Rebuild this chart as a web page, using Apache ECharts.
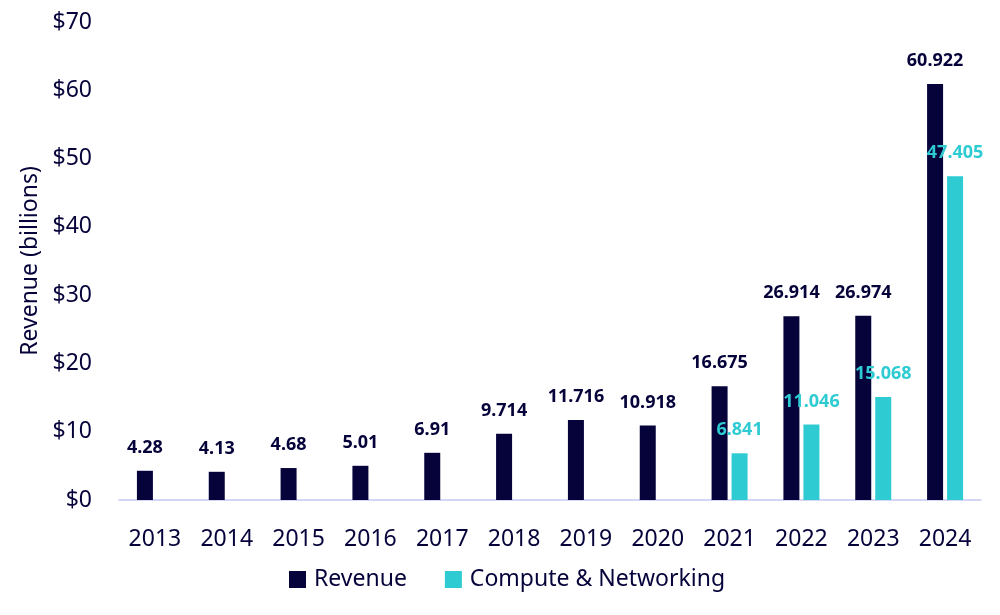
<!DOCTYPE html>
<html lang="en">
<head>
	<meta charset="UTF-8">
	<title>Revenue</title>
	<script type="text/javascript" src="https://cdn.jsdelivr.net/npm/echarts@6/dist/echarts.min.js"></script>
	<style type="text/css">
	html,body{margin:0;padding:0;background:#fff;}
	#container{width:1000px;height:615px;}
	</style>
</head>
<body>
	<div id="container"></div>
	<script type="text/javascript">
		var years = ['2013','2014','2015','2016','2017','2018','2019','2020','2021','2022','2023','2024'];
		var revenue = [4.28, 4.13, 4.68, 5.01, 6.91, 9.714, 11.716, 10.918, 16.675, 26.914, 26.974, 60.922];
		var computeNet = [null, null, null, null, null, null, null, null, 6.841, 11.046, 15.068, 47.405];

		var navy = '#05033a';
		var cyan = '#2ecbd3';
		var font = 'Noto Sans';

		var myChart = echarts.init(document.getElementById('container'));
		var option = {
			textStyle: {fontFamily: font},
			grid: {left: 119, right: 19, top: 22, bottom: 115},
			legend: {
				left: 284,
				top: 563,
				itemWidth: 17,
				itemHeight: 17,
				itemGap: 38,
				icon: 'rect',
				textStyle: {fontSize: 23, color: navy, fontFamily: font, padding: [0, 0, 0, 3]},
				data: ['Revenue', 'Compute & Networking']
			},
			xAxis: {
				type: 'category',
				data: years,
				axisLine: {lineStyle: {color: '#c8c8f4', width: 1.5}},
				axisTick: {show: false},
				axisLabel: {fontSize: 23, color: navy, margin: 28}
			},
			yAxis: {
				type: 'value',
				min: 0,
				max: 70,
				interval: 10,
				name: 'Revenue (billions)',
				nameLocation: 'middle',
				nameGap: 76,
				nameTextStyle: {fontSize: 23, color: navy},
				splitLine: {show: false},
				axisLabel: {
					fontSize: 23,
					color: navy,
					margin: 27,
					formatter: function (v) { return '$' + v; }
				}
			},
			series: [
				{
					name: 'Revenue',
					type: 'bar',
					data: revenue,
					barWidth: 16,
					barGap: '25%',
					itemStyle: {color: navy},
					label: {
						show: true,
						position: 'top',
						distance: 14,
						fontSize: 18,
						fontWeight: 'bold',
						color: navy
					}
				},
				{
					name: 'Compute & Networking',
					type: 'bar',
					data: computeNet,
					barWidth: 16,
					itemStyle: {color: cyan},
					label: {
						show: true,
						position: 'top',
						distance: 14,
						fontSize: 18,
						fontWeight: 'bold',
						color: cyan
					}
				}
			]
		};
		myChart.setOption(option);
	</script>
</body>
</html>
